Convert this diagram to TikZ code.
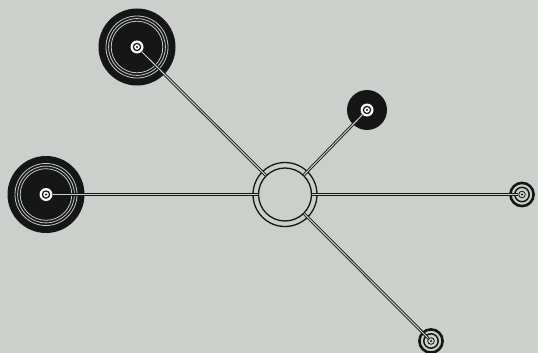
\documentclass[tikz,border=0pt]{standalone}
\definecolor{bg}{HTML}{CBD0CD}
\definecolor{ink}{HTML}{161616}
\definecolor{ringgray}{HTML}{C4C8C6}
\tikzset{
  disk/.style={circle, fill=ink, inner sep=0pt, minimum size=#1},
  hubring/.style={circle, draw=ink, line width=1.3pt, inner sep=0pt, minimum size=#1},
  whitetarget/.style={circle, fill=white, inner sep=0pt, minimum size=13pt},
  opentarget/.style={circle, draw=ink, line width=0.8pt, inner sep=0pt, minimum size=6.6pt},
  groove/.style={draw=ringgray, line width=0.8pt},
  link/.style={draw=ink, line width=0.9pt, double=bg, double distance=1pt},
}
\begin{document}
\begin{tikzpicture}[x=1pt,y=-1pt]
  \fill[bg] (0,0) rectangle (538,353);
  \useasboundingbox (0,0) rectangle (538,353);
  % black disks
  \node[disk=77pt] (tlbg) at (137,47) {};
  \node[disk=77pt] (lbg) at (46,194.5) {};
  \node[disk=40pt] (sbg) at (367,110) {};
  % grooves on big disks
  \foreach \c in {tlbg,lbg}{
    \draw[groove] (\c) circle (31);
    \draw[groove] (\c) circle (28.4);
    \draw[groove] (\c) circle (25.8);
  }
  % hub
  \node[hubring=64pt] (hubo) at (285,194.5) {};
  \node[hubring=53pt] (hub) at (285,194.5) {};
  % white targets on disks
  \foreach \n/\p in {tl/{(137,47)}, l/{(46,194.5)}, s/{(367,110)}}{
    \node[whitetarget] (\n) at \p {};
    \draw[ink, line width=1.2pt] (\n) circle (3.6);
    \fill[ink] (\n) circle (1.2);
  }
  % open targets
  \foreach \n/\p in {r/{(522,194.5)}, b/{(431,341)}}{
    \node[opentarget] (\n) at \p {};
    \draw[ink, line width=2.6pt] (\n) circle (11.6);
    \draw[ink, line width=1.5pt] (\n) circle (7.2);
    \fill[ink] (\n) circle (1.2);
  }
  % links
  \draw[link] (tl) -- (hub);
  \draw[link] (l) -- (hub);
  \draw[link] (s) -- (hub);
  \draw[link] (r) -- (hub);
  \draw[link] (b) -- (hub);
\end{tikzpicture}
\end{document}
